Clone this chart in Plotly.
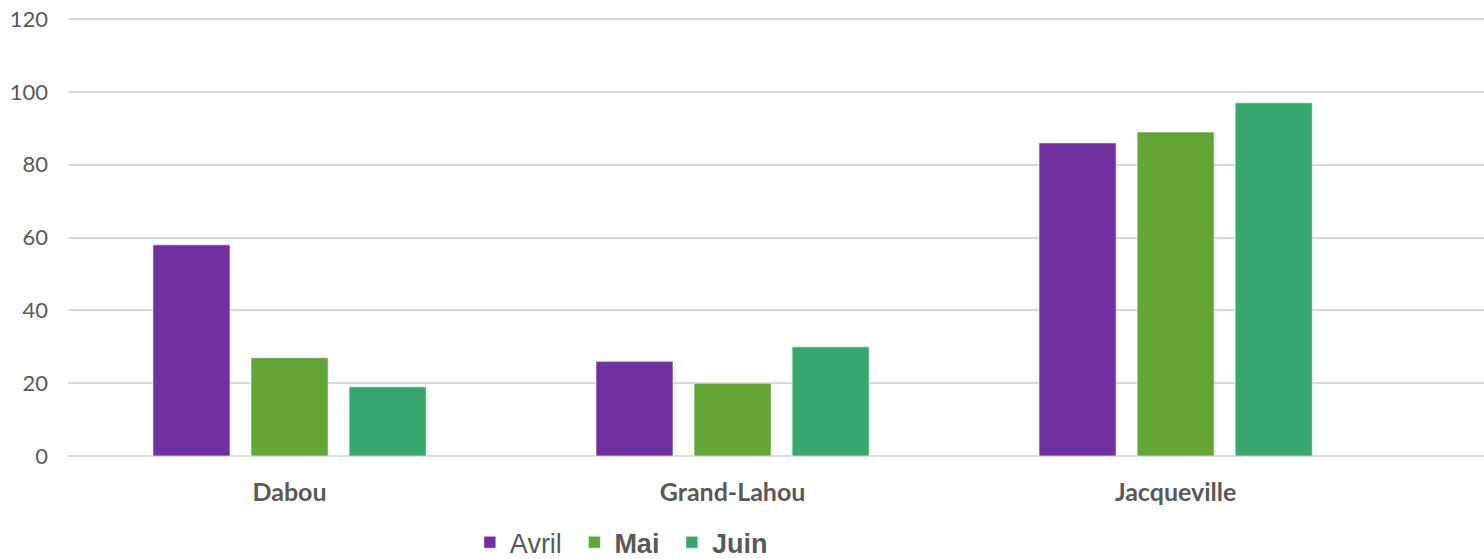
import plotly.graph_objects as go

# Andmed
categories = ["Dabou", "Grand-Lahou", "Jacqueville"]
avril = [58, 26, 86]
mai = [27, 20, 89]
juin = [19, 30, 97]
y_ticks = [0, 20, 40, 60, 80, 100, 120]

COLOR_AVRIL = "#7030A0"
COLOR_MAI = "#63A537"
COLOR_JUIN = "#37A76F"
GRID = "#D9D9D9"
TEXT = "#595959"
NBSP = "\u00a0"

fig = go.Figure()
for name, vals, color in [
    ("Avril" + NBSP, avril, COLOR_AVRIL),
    ("<b>Mai</b>" + NBSP, mai, COLOR_MAI),
    ("<b>Juin</b>", juin, COLOR_JUIN),
]:
    fig.add_trace(go.Bar(
        x=categories,
        y=vals,
        name=name,
        marker=dict(color=color, line=dict(color="rgba(255,255,255,0.6)", width=1)),
    ))

fig.update_layout(
    width=1484,
    height=559,
    margin=dict(l=68, r=0, t=18, b=103),
    plot_bgcolor="white",
    paper_bgcolor="white",
    barmode="group",
    bargap=0.336,
    bargroupgap=0.214,
    font=dict(family="Lato", color=TEXT),
    xaxis=dict(
        range=[-0.5, 2.696],
        showgrid=False,
        showline=False,
        zeroline=False,
        automargin=False,
        tickfont=dict(size=25, family="Lato", weight="bold", color=TEXT),
        ticklabelstandoff=19,
    ),
    yaxis=dict(
        range=[0, 120.3],
        tickvals=y_ticks,
        showgrid=True,
        gridcolor=GRID,
        gridwidth=1.5,
        zeroline=True,
        zerolinecolor=GRID,
        zerolinewidth=1.5,
        automargin=False,
        tickfont=dict(size=22, family="Lato", color=TEXT),
        ticklabelstandoff=19,
    ),
    legend=dict(
        orientation="h",
        x=0.2838,
        y=0.073,
        xref="paper",
        yref="container",
        xanchor="left",
        yanchor="top",
        font=dict(size=27, family="Liberation Sans", color=TEXT),
        itemwidth=30,
        tracegroupgap=0,
    ),
)

# body vaikimisi 8px veeris maha, et joonis algaks vasakust ülanurgast
fig.write_html(
    "out.html",
    config={"displayModeBar": False},
    post_script="document.body.style.margin='0';",
)
